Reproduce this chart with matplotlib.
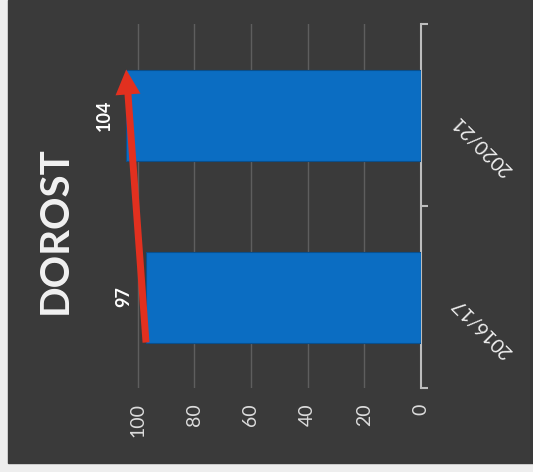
import matplotlib
matplotlib.use("Agg")
import matplotlib.pyplot as plt
from matplotlib.patches import Rectangle
import matplotlib.transforms as mtransforms

categories = ["2016/17", "2020/21"]
values = [97, 104]
value_ticks = [0, 20, 40, 60, 80, 100]
title = "DOROST"

plt.rcParams['font.family'] = ['Lato', 'DejaVu Sans']

W, H = 533, 472
fig = plt.figure(figsize=(W / 100, H / 100), dpi=100)
fig.patch.set_facecolor('#eeeeee')
fig.add_artist(Rectangle((8 / W, 9 / H), 1 - 8 / W, 1 - 9 / H,
                         transform=fig.transFigure, color='#3a3a3a', zorder=0))

ax = fig.add_axes([95 / W, 1 - 388 / H, (421 - 95) / W, (388 - 24) / H])
ax.set_facecolor('none')

pos = list(range(len(categories)))
ax.barh(pos, values, height=0.5, color='#0b6dc2', edgecolor='#0a4f8c', linewidth=0.8, zorder=3)

ax.set_xlim(115, 0)
ax.set_ylim(-0.5, len(categories) - 0.5)

# gridlines
ax.set_xticks(value_ticks)
ax.xaxis.grid(True, color='#5e5e5e', linewidth=1, zorder=1)
ax.set_axisbelow(True)
ax.tick_params(axis='x', length=0, pad=11, labelsize=14, labelcolor='#dcdcdc')
for lbl in ax.get_xticklabels():
    lbl.set_rotation(90)

# category axis on right
for s in ['top', 'bottom', 'left']:
    ax.spines[s].set_visible(False)
ax.spines['right'].set_color('#bdbdbd')
ax.spines['right'].set_linewidth(1.5)
ax.yaxis.tick_right()
ax.set_yticks([p - 0.5 for p in pos] + [len(pos) - 0.5])
ax.set_yticklabels([])
ax.tick_params(axis='y', which='both', length=5, width=1.5, color='#bdbdbd', direction='out')

# category labels
trans = mtransforms.blended_transform_factory(ax.transAxes, ax.transData)
for p, c in zip(pos, categories):
    ax.text(1.19, p - 0.17, c, transform=trans,
            rotation=135, ha='center', va='center', rotation_mode='anchor',
            fontsize=14, color='#eeeeee')

# data labels
for p, v in zip(pos, values):
    ax.annotate(str(v), xy=(v, p), xytext=(-16, 0), textcoords='offset points',
                rotation=90, ha='center', va='center', fontsize=13,
                fontweight='bold', color='white', zorder=5)

# red trend arrow
ax.annotate('', xy=(values[-1], pos[-1] + 0.25), xytext=(values[0], pos[0] - 0.25),
            arrowprops=dict(facecolor='#e2301f', edgecolor='none', width=5,
                            headwidth=18, headlength=18, shrink=0),
            zorder=6, annotation_clip=False)

fig.text(55 / W, 1 - 230 / H, title, rotation=90, ha='center', va='center',
         fontsize=29, fontweight='bold', color='#f2f2f2')

fig.savefig('out.png', dpi=100, facecolor=fig.get_facecolor())
